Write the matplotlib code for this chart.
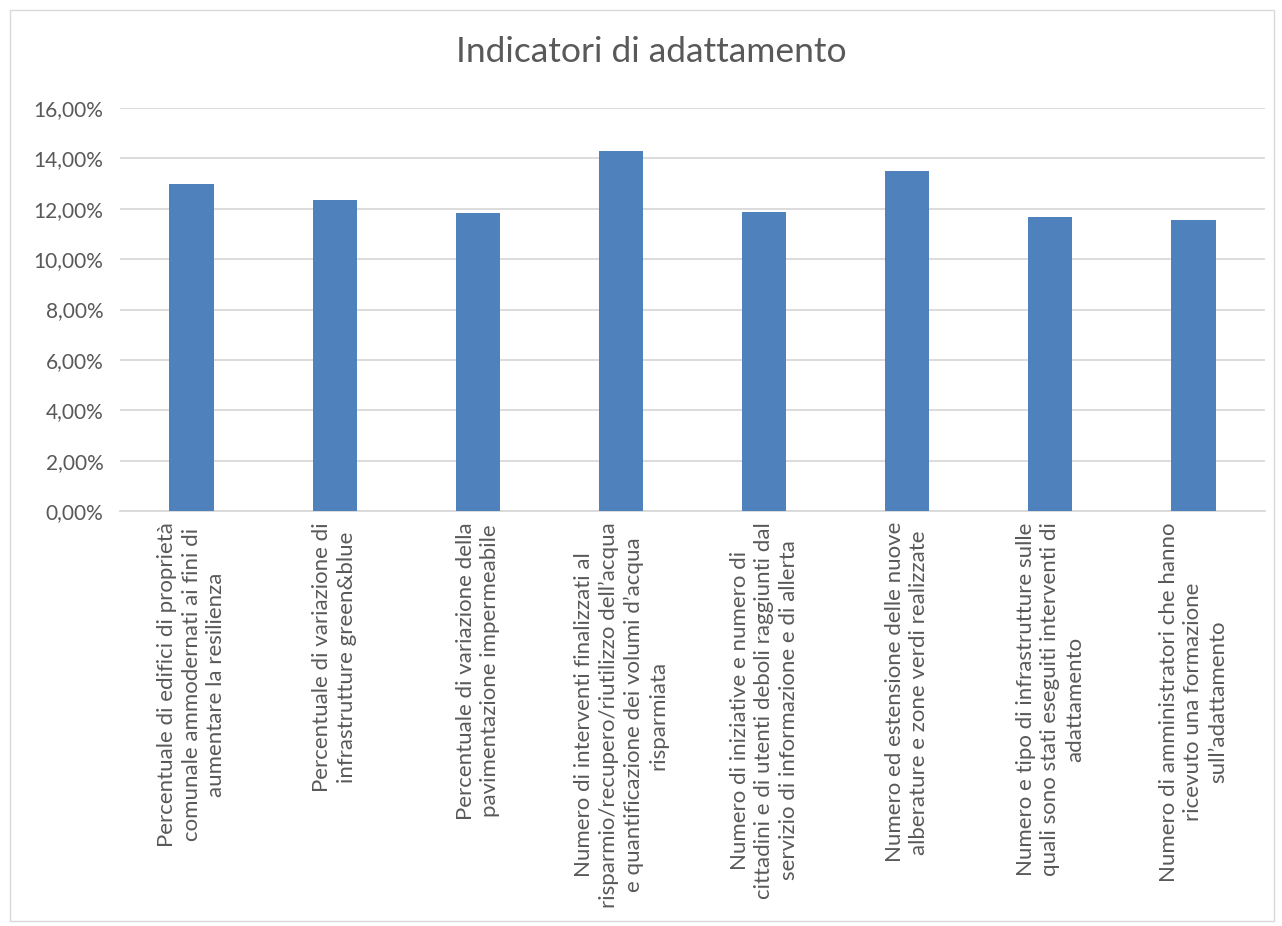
import matplotlib.pyplot as plt
from matplotlib.ticker import FuncFormatter
from matplotlib.patches import Rectangle

# data
categories = [
    "Percentuale di edifici di proprietà\ncomunale ammodernati ai fini di\naumentare la resilienza",
    "Percentuale di variazione di\ninfrastrutture green&blue",
    "Percentuale di variazione della\npavimentazione impermeabile",
    "Numero di interventi finalizzati al\nrisparmio/recupero/riutilizzo dell\u2019acqua\ne quantificazione dei volumi d\u2019acqua\nrisparmiata",
    "Numero di iniziative e numero di\ncittadini e di utenti deboli raggiunti dal\nservizio di informazione e di allerta",
    "Numero ed estensione delle nuove\nalberature e zone verdi realizzate",
    "Numero e tipo di infrastrutture sulle\nquali sono stati eseguiti interventi di\nadattamento",
    "Numero di amministratori che hanno\nricevuto una formazione\nsull\u2019adattamento",
]
values = [0.1299, 0.1235, 0.1185, 0.1431, 0.1187, 0.1348, 0.1168, 0.1155]

plt.rcParams["font.family"] = ["Lato", "DejaVu Sans"]
grey = "#595959"

fig = plt.figure(figsize=(12.82, 9.26), dpi=100)
ax = fig.add_axes([120 / 1282, 1 - 511 / 926, (1265 - 120) / 1282, (511 - 108) / 926])

x = range(len(values))
ax.bar(x, values, width=0.31, color="#4F81BD", zorder=3)

ax.set_xlim(-0.5, len(values) - 0.5)
ax.set_ylim(0, 0.16)
ax.set_yticks([i * 0.02 for i in range(9)])
ax.yaxis.set_major_formatter(FuncFormatter(lambda v, p: f"{v * 100:.2f}%".replace(".", ",")))
ax.grid(axis="y", color="#D9D9D9", linewidth=1.3, zorder=0)
for s in ["top", "right", "left"]:
    ax.spines[s].set_visible(False)
ax.spines["bottom"].set_color("#D9D9D9")
ax.spines["bottom"].set_linewidth(1.3)
ax.tick_params(length=0, colors=grey, labelsize=15)
ax.tick_params(axis="y", pad=12)
ax.tick_params(axis="x", pad=8)

ax.set_xticks(list(x))
ax.set_xticklabels(categories, rotation=90, ha="center", va="top",
                   multialignment="center", fontsize=16, linespacing=1.28)

fig.text(0.508, 1 - 52 / 926, "Indicatori di adattamento", ha="center", va="center",
         fontsize=25.5, color=grey)

# chart border
fig.patches.append(Rectangle((10 / 1282, 0.005), 1264 / 1282, 1 - 10 / 926 - 0.005,
                             transform=fig.transFigure, fill=False,
                             edgecolor="#D9D9D9", linewidth=1))

fig.savefig("out.png", dpi=100, facecolor="white")
